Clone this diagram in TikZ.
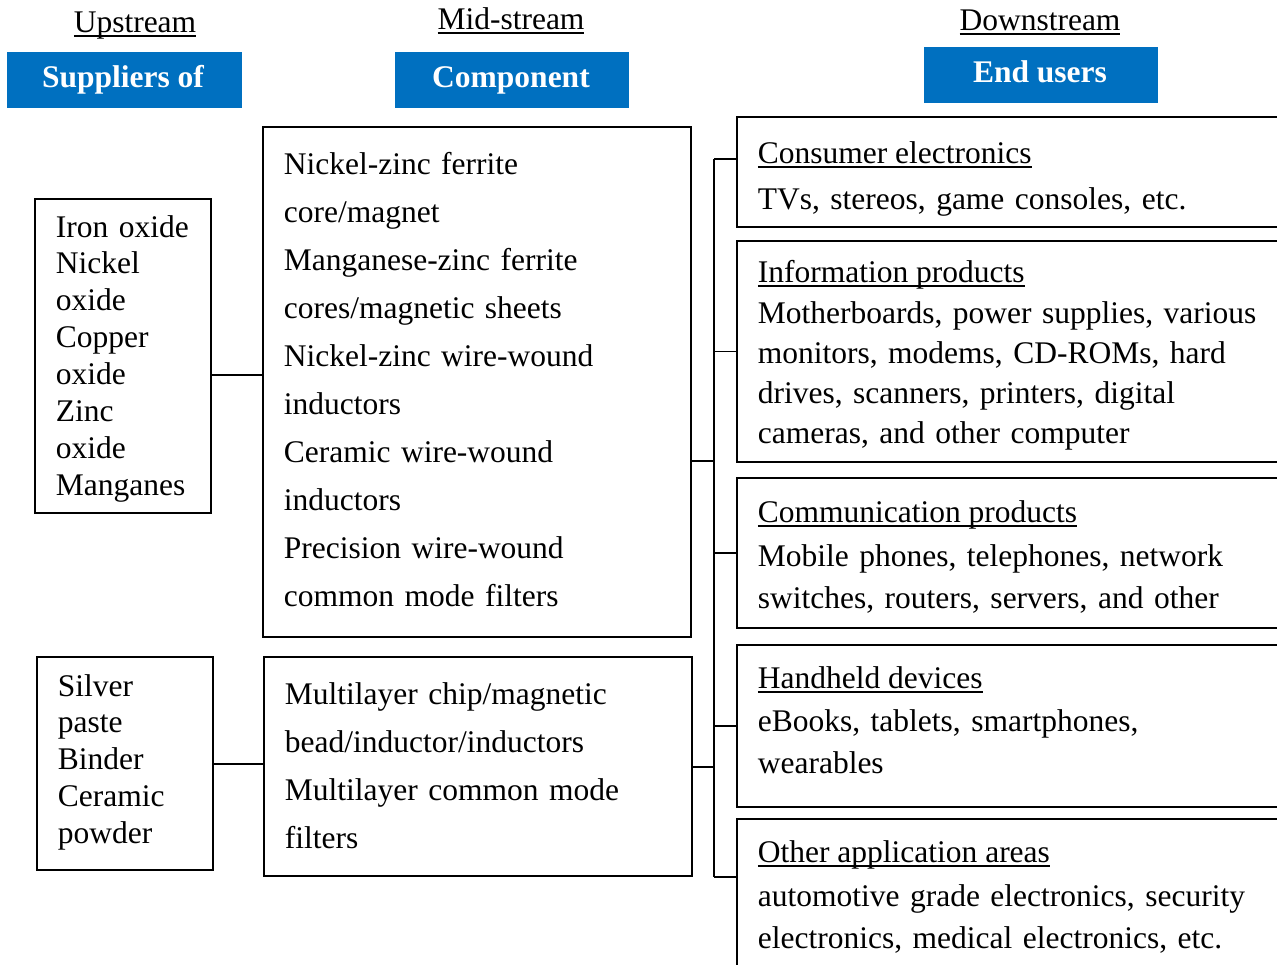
\documentclass[tikz,border=0pt]{standalone}
\usepackage{fontspec}
\setmainfont{Liberation Serif}
\definecolor{hdrblue}{RGB}{0,112,192}
\newsavebox\ulbox
% underline at a fixed depth below the baseline
\newcommand\ulw[1]{\sbox\ulbox{#1}\rlap{\rule[-4.5pt]{\wd\ulbox}{1.8pt}}\usebox\ulbox}
% body text size with a given line pitch
\newcommand\setsp[1]{\fontsize{31.5pt}{#1pt}\selectfont}
\begin{document}
\begin{tikzpicture}[x=1pt,y=-1pt,line width=1.6pt,
  box/.style={draw,anchor=north west,inner sep=0pt},
  hdr/.style={fill=hdrblue,anchor=north west,inner sep=0pt},
  hdrtext/.style={anchor=base,inner sep=0pt,text=white,font=\setsp{36}\bfseries},
  head/.style={anchor=base,inner sep=0pt,font=\setsp{36}},
  title/.style={anchor=base west,inner sep=0pt,font=\setsp{36}},
  txt/.style={anchor=base west,inner sep=0pt,text width=#1}]
\useasboundingbox (0,0) rectangle (1277,964);
\clip (0,0) rectangle (1277,964);

% column headings
\node[head] (up)   at (135,32) {\ulw{Upstream}};
\node[head] (mid)  at (511,29) {\ulw{Mid-stream}};
\node[head] (down) at (1040,30) {\ulw{Downstream}};

\node[hdr,minimum width=235pt,minimum height=56pt] (hsup)  at (6,51)   {};
\node[hdr,minimum width=234pt,minimum height=56pt] (hcomp) at (394,51) {};
\node[hdr,minimum width=234pt,minimum height=56pt] (hend)  at (923,46) {};
\node[hdrtext] (hsupt)  at (123,87) {Suppliers of};
\node[hdrtext] (hcompt) at (511,87) {Component};
\node[hdrtext] (hendt)  at (1040,82) {End users};

% boxes
\node[box,minimum width=176pt,minimum height=314pt] (b1) at (34,198)  {};
\node[box,minimum width=176pt,minimum height=213pt] (b2) at (36,656)  {};
\node[box,minimum width=428pt,minimum height=510pt] (b3) at (262,126) {};
\node[box,minimum width=428pt,minimum height=219pt] (b4) at (263,656) {};
\node[box,minimum width=600pt,minimum height=110pt] (r1) at (736,116) {};
\node[box,minimum width=600pt,minimum height=221pt] (r2) at (736,240) {};
\node[box,minimum width=600pt,minimum height=150pt] (r3) at (736,477) {};
\node[box,minimum width=600pt,minimum height=162pt] (r4) at (736,644) {};
\node[box,minimum width=600pt,minimum height=220pt] (r5) at (736,818) {};

% box texts
\node[txt=170pt,font=\setsp{36.9}] (t1) at (55,237) {Iron oxide\\Nickel\\oxide\\Copper\\oxide\\Zinc\\oxide\\Manganes};
\node[txt=170pt,font=\setsp{36.8}] (t2) at (57,696) {Silver\\paste\\Binder\\Ceramic\\powder};
\node[txt=400pt,font=\setsp{48}] (t3) at (283,174) {Nickel-zinc ferrite\\core/magnet\\Manganese-zinc ferrite\\cores/magnetic sheets\\Nickel-zinc wire-wound\\inductors\\Ceramic wire-wound\\inductors\\Precision wire-wound\\common mode filters};
\node[txt=400pt,font=\setsp{48}] (t4) at (284,704) {Multilayer chip/magnetic\\bead/inductor/inductors\\Multilayer common mode\\filters};

\node[title] (s1) at (757,163) {\ulw{Consumer electronics}};
\node[txt=540pt,font=\setsp{42}] (u1) at (757,209) {TVs, stereos, game consoles, etc.};
\node[title] (s2) at (757,282) {\ulw{Information products}};
\node[txt=540pt,font=\setsp{40}] (u2) at (757,323) {Motherboards, power supplies, various\\monitors, modems, CD-ROMs, hard\\drives, scanners, printers, digital\\cameras, and other computer};
\node[title] (s3) at (757,522) {\ulw{Communication products}};
\node[txt=540pt,font=\setsp{42}] (u3) at (757,566) {Mobile phones, telephones, network\\switches, routers, servers, and other};
\node[title] (s4) at (757,688) {\ulw{Handheld devices}};
\node[txt=540pt,font=\setsp{42}] (u4) at (757,731) {eBooks, tablets, smartphones,\\wearables};
\node[title] (s5) at (757,862) {\ulw{Other application areas}};
\node[txt=540pt,font=\setsp{42}] (u5) at (757,906) {automotive grade electronics, security\\electronics, medical electronics, etc.};

% connectors
\coordinate (j13) at (236,375);
\coordinate (j24) at (237,764);
\coordinate (ttop) at (714,159);
\coordinate (tbot) at (714,877);
\coordinate (j3) at (700,461);
\coordinate (j4) at (700,767);
\draw (b1.east |- j13) -- (b3.west |- j13);
\draw (b2.east |- j24) -- (b4.west |- j24);
\draw (ttop) -- (tbot);
\draw (b3.east |- j3) -- (ttop |- j3);
\draw (b4.east |- j4) -- (ttop |- j4);
\draw (ttop) -- (r1.west |- ttop);
\draw (ttop |- r2.west) -- (r2.west);
\draw (ttop |- r3.west) -- (r3.west);
\draw (ttop |- r4.west) -- (r4.west);
\draw (tbot) -- (r5.west |- tbot);
\end{tikzpicture}
\end{document}
